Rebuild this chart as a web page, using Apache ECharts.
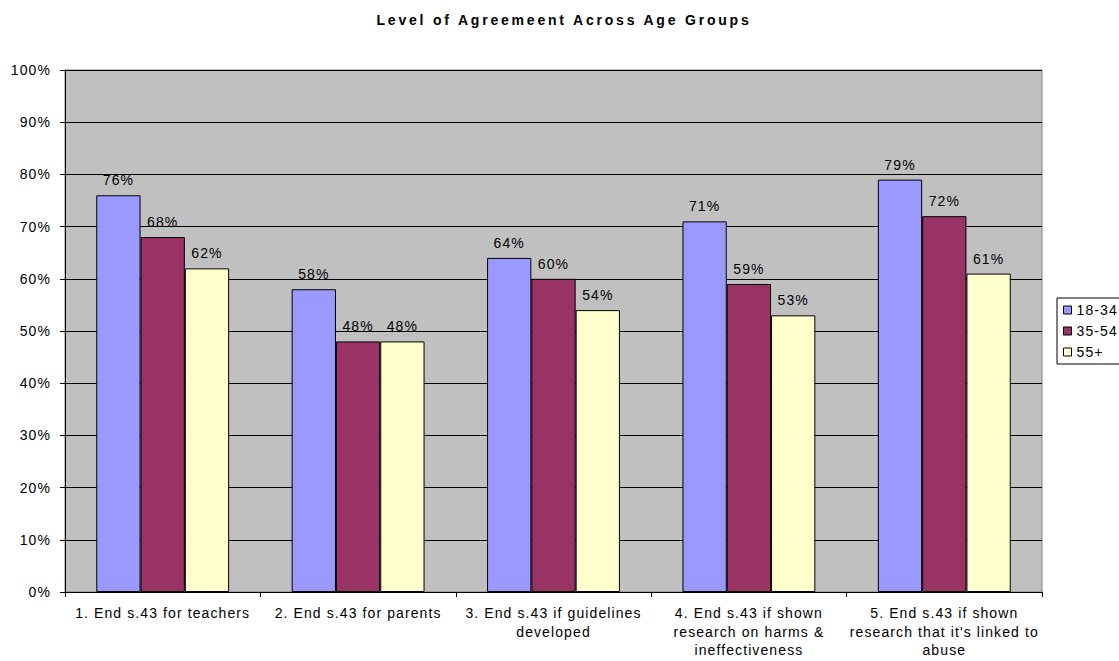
<!DOCTYPE html>
<html><head><meta charset="utf-8">
<script src="https://cdn.jsdelivr.net/npm/echarts@6/dist/echarts.min.js"></script>
<style>
html,body{margin:0;padding:0;background:#fff}
#c{width:1119px;height:661px}
#c text{letter-spacing:1.1px}
#c text[style*="bold"]{letter-spacing:2.8px}
</style>
</head><body><div id="c"></div>
<script>
const categories = ["1. End s.43 for teachers", "2. End s.43 for parents", "3. End s.43 if guidelines\ndeveloped", "4. End s.43 if shown\nresearch on harms &\nineffectiveness", "5. End s.43 if shown\nresearch that it's linked to\nabuse"];
const seriesNames = ["18-34", "35-54", "55+"];
const s1834 = [76, 58, 64, 71, 79];
const s3554 = [68, 48, 60, 59, 72];
const s55 = [62, 48, 54, 53, 61];
const colors = ["#9999FF", "#993366", "#FFFFCC"];
const font = "Liberation Sans, Arial, sans-serif";

const chart = echarts.init(document.getElementById('c'), null, { renderer: 'svg' });
const mk = (name, data, i) => ({
  name, type: 'bar', data, barGap: '0%', barCategoryGap: '32%',
  itemStyle: { color: colors[i], borderColor: '#000', borderWidth: 1 },
  label: { show: true, position: 'top', formatter: '{c}%', color: '#000', fontFamily: font, fontSize: 14, distance: 8 }
});
chart.setOption({
  animation: false,
  title: { text: 'Level of Agreemeent Across Age Groups', left: 559, top: 8, textAlign: 'center',
    textStyle: { fontFamily: font, fontSize: 14, fontWeight: 'bold', color: '#000' } },
  legend: { orient: 'vertical', left: 1057, top: 298, itemWidth: 8, itemHeight: 8, itemGap: 7,
    padding: [5, 30, 5, 6], borderColor: '#000', borderWidth: 1, backgroundColor: '#fff',
    textStyle: { fontFamily: font, fontSize: 14, color: '#000' },
    itemStyle: { borderColor: '#000', borderWidth: 1 },
    data: seriesNames.map(n => ({ name: n, icon: 'rect' })) },
  grid: { left: 65, right: 77, top: 70, bottom: 69, show: true, backgroundColor: '#C0C0C0', borderColor: '#808080', borderWidth: 1 },
  xAxis: { type: 'category', data: categories,
    axisLine: { lineStyle: { color: '#000' } },
    axisTick: { show: true, length: 5, lineStyle: { color: '#000' } },
    axisLabel: { interval: 0, fontFamily: font, fontSize: 14, color: '#000', lineHeight: 18.5, margin: 12 } },
  yAxis: { type: 'value', min: 0, max: 100, interval: 10,
    axisLine: { show: true, lineStyle: { color: '#000' } },
    axisTick: { show: true, length: 5, inside: false, lineStyle: { color: '#000' } },
    axisLabel: { formatter: '{value}%', fontFamily: font, fontSize: 14, color: '#000', margin: 14 },
    splitLine: { lineStyle: { color: '#000', width: 1 } } },
  series: [mk(seriesNames[0], s1834, 0), mk(seriesNames[1], s3554, 1), mk(seriesNames[2], s55, 2)]
});
</script></body></html>
